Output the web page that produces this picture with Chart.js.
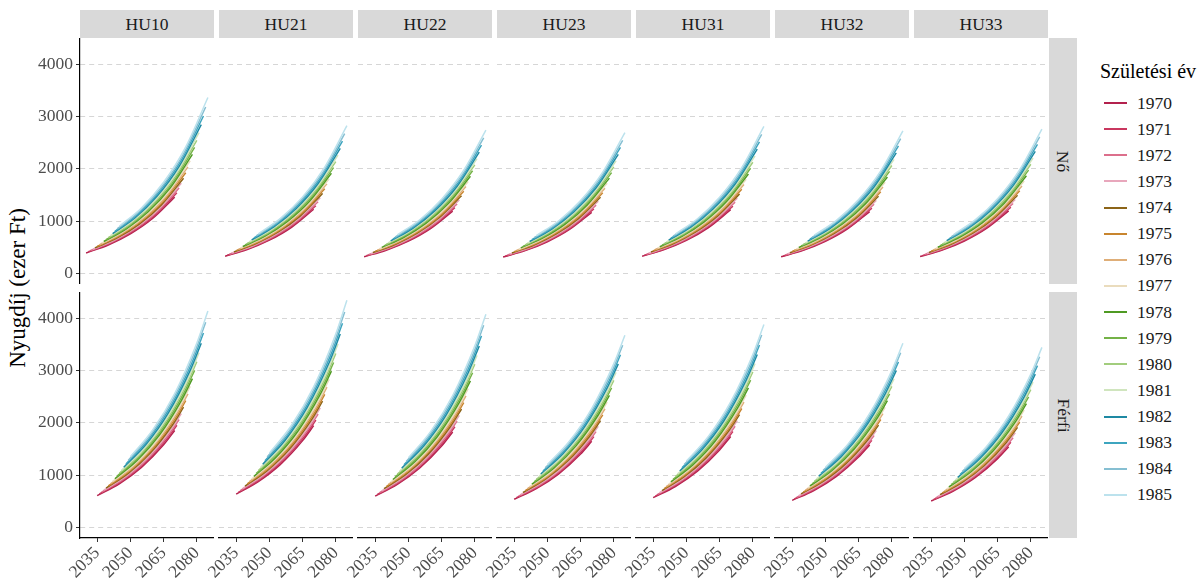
<!DOCTYPE html>
<html>
<head>
<meta charset="utf-8">
<title>Nyugdíj születési év szerint</title>
<script src="https://cdn.jsdelivr.net/npm/chart.js@4.4.1/dist/chart.umd.min.js"></script>
<style>
    body { margin: 0; width: 1203px; height: 581px; background: #fff; position: relative; overflow: hidden;
           font-family: 'Liberation Serif', 'Times New Roman', serif; }
    .panel { position: absolute; }
    .strip { position: absolute; background: #d9d9d9; color: #1a1a1a; font-size: 17.5px;
             display: flex; align-items: center; justify-content: center; }
    .strip.side span { transform: rotate(90deg); white-space: nowrap; }
    #ytitle { position: absolute; left: 18px; top: 288px; transform: translate(-50%, -50%) rotate(-90deg);
              font-size: 23px; color: #000; white-space: nowrap; }
    #legendTitle { position: absolute; left: 1100px; top: 60px; font-size: 20px; color: #000; white-space: nowrap; }
    .key { position: absolute; left: 1104px; height: 26px; display: flex; align-items: center; }
    .key i { display: block; width: 23px; height: 2px; margin-right: 10px; }
    .key span { font-size: 17.5px; color: #1a1a1a; font-family: 'Liberation Serif', 'Times New Roman', serif; }
</style>
</head>
<body>
<div id="ytitle">Nyugdíj (ezer Ft)</div>
<div id="legendTitle">Születési év</div>
<script>
// Data
const cohorts = [1970, 1971, 1972, 1973, 1974, 1975, 1976, 1977, 1978, 1979, 1980, 1981, 1982, 1983, 1984, 1985];
const regions = ['HU10', 'HU21', 'HU22', 'HU23', 'HU31', 'HU32', 'HU33'];
const sexes = ['Nő', 'Férfi'];
const agesNo = [60, 70, 80, 90, 100];
const agesFerfi = [65, 75, 85, 95, 100];
const xTicks = [2035, 2050, 2065, 2080];
const yTicks = [0, 1000, 2000, 3000, 4000];
const colors = ['#B3214D', '#C9375F', '#DC6F8C', '#E8A7BC',
                '#8C6418', '#C8852E', '#DFAE78', '#EADCBD',
                '#4F9A23', '#74B247', '#A2CD7D', '#D0E5BE',
                '#1E89A3', '#3DA5BF', '#86BFD2', '#BCE2ED'];

// Nő (ezer Ft), one row per cohort, values at agesNo
const noHU10 = [
    [390, 542, 755, 1049, 1459], [412, 573, 797, 1108, 1541], [436, 606, 844, 1173, 1631], [461, 641, 892, 1240, 1724],
    [487, 677, 942, 1310, 1821], [515, 716, 997, 1385, 1926], [545, 758, 1055, 1466, 2038], [576, 801, 1115, 1549, 2154],
    [609, 847, 1178, 1638, 2278], [644, 895, 1246, 1732, 2409], [681, 947, 1318, 1832, 2547], [720, 1001, 1393, 1937, 2693],
    [761, 1058, 1473, 2047, 2846], [805, 1119, 1558, 2165, 3011], [851, 1183, 1647, 2289, 3183], [900, 1251, 1742, 2421, 3366]];
const noHU21 = [
    [328, 455, 634, 881, 1226], [346, 481, 669, 931, 1294], [366, 509, 709, 985, 1370], [387, 538, 749, 1042, 1448],
    [409, 569, 791, 1100, 1530], [433, 601, 837, 1163, 1618], [458, 637, 886, 1231, 1712], [484, 673, 937, 1301, 1809],
    [512, 711, 990, 1376, 1914], [541, 752, 1047, 1455, 2024], [572, 795, 1107, 1539, 2139], [605, 841, 1170, 1627, 2262],
    [639, 889, 1237, 1719, 2391], [676, 940, 1309, 1819, 2529], [715, 994, 1383, 1923, 2674], [756, 1051, 1463, 2034, 2827]];
const noHU22 = [
    [318, 442, 615, 855, 1189], [336, 467, 650, 903, 1256], [355, 494, 688, 956, 1329], [376, 522, 727, 1011, 1405],
    [397, 552, 768, 1068, 1484], [420, 584, 813, 1129, 1570], [444, 618, 860, 1195, 1661], [469, 653, 909, 1262, 1756],
    [496, 690, 960, 1335, 1857], [525, 729, 1015, 1412, 1963], [555, 772, 1074, 1493, 2076], [587, 816, 1135, 1579, 2195],
    [620, 862, 1200, 1668, 2319], [656, 912, 1270, 1764, 2454], [694, 964, 1342, 1866, 2594], [734, 1020, 1420, 1973, 2743]];
const noHU23 = [
    [312, 434, 604, 839, 1167], [330, 458, 638, 886, 1233], [349, 485, 675, 938, 1305], [369, 513, 714, 992, 1379],
    [390, 542, 754, 1048, 1457], [412, 573, 798, 1108, 1541], [436, 606, 844, 1173, 1630], [461, 641, 892, 1239, 1723],
    [487, 678, 942, 1310, 1822], [515, 716, 997, 1386, 1927], [545, 758, 1054, 1466, 2038], [576, 801, 1114, 1550, 2154],
    [609, 846, 1178, 1638, 2277], [644, 895, 1246, 1732, 2409], [681, 946, 1318, 1831, 2546], [720, 1001, 1394, 1937, 2693]];
const noHU31 = [
    [326, 453, 630, 876, 1218], [344, 478, 665, 925, 1287], [364, 506, 705, 979, 1362], [385, 535, 745, 1035, 1440],
    [407, 565, 787, 1094, 1521], [430, 598, 832, 1156, 1608], [455, 633, 881, 1224, 1702], [481, 669, 931, 1293, 1799],
    [509, 707, 984, 1368, 1902], [538, 747, 1040, 1446, 2012], [569, 791, 1101, 1530, 2127], [601, 836, 1163, 1617, 2249],
    [635, 883, 1230, 1709, 2376], [672, 934, 1301, 1808, 2514], [711, 988, 1375, 1911, 2658], [752, 1045, 1455, 2022, 2811]];
const noHU32 = [
    [316, 439, 612, 850, 1182], [334, 464, 646, 897, 1248], [353, 491, 684, 950, 1321], [373, 519, 723, 1004, 1396],
    [394, 548, 763, 1061, 1475], [417, 580, 808, 1122, 1560], [441, 614, 855, 1187, 1651], [467, 649, 903, 1255, 1745],
    [493, 686, 954, 1327, 1845], [522, 725, 1009, 1403, 1951], [552, 767, 1068, 1484, 2063], [583, 811, 1128, 1569, 2181],
    [616, 857, 1193, 1658, 2305], [652, 906, 1262, 1754, 2439], [689, 958, 1334, 1854, 2578], [729, 1013, 1411, 1961, 2726]];
const noHU33 = [
    [320, 444, 619, 860, 1196], [338, 470, 654, 909, 1264], [358, 497, 692, 962, 1337], [378, 526, 731, 1017, 1414],
    [399, 555, 772, 1074, 1493], [422, 587, 818, 1136, 1579], [447, 622, 865, 1202, 1671], [472, 657, 914, 1270, 1766],
    [499, 695, 966, 1343, 1868], [528, 734, 1022, 1420, 1975], [558, 777, 1081, 1502, 2089], [590, 821, 1142, 1588, 2208],
    [624, 868, 1208, 1679, 2334], [660, 918, 1278, 1775, 2469], [698, 970, 1351, 1877, 2610], [738, 1026, 1428, 1985, 2760]];

// Férfi (ezer Ft), one row per cohort, values at agesFerfi
const ferfiHU10 = [
    [605, 833, 1147, 1580, 1854], [638, 879, 1210, 1666, 1955], [673, 927, 1276, 1758, 2063], [710, 978, 1346, 1855, 2176],
    [750, 1033, 1422, 1959, 2299], [791, 1089, 1500, 2066, 2424], [834, 1148, 1581, 2178, 2556], [880, 1212, 1668, 2299, 2697],
    [929, 1279, 1761, 2427, 2847], [980, 1349, 1858, 2560, 3004], [1034, 1424, 1960, 2701, 3169], [1090, 1501, 2067, 2847, 3341],
    [1150, 1584, 2180, 3004, 3525], [1214, 1672, 2302, 3171, 3721], [1281, 1764, 2429, 3346, 3926], [1351, 1860, 2561, 3529, 4141]];
const ferfiHU21 = [
    [635, 875, 1204, 1659, 1947], [670, 923, 1271, 1749, 2053], [707, 973, 1340, 1846, 2166], [746, 1027, 1413, 1948, 2285],
    [788, 1085, 1493, 2057, 2414], [831, 1143, 1575, 2169, 2545], [876, 1205, 1660, 2287, 2684], [924, 1273, 1751, 2414, 2832],
    [975, 1343, 1849, 2548, 2989], [1029, 1416, 1951, 2688, 3154], [1086, 1495, 2058, 2836, 3327], [1145, 1576, 2170, 2989, 3508],
    [1208, 1663, 2289, 3154, 3701], [1275, 1756, 2417, 3330, 3907], [1345, 1852, 2550, 3513, 4122], [1419, 1953, 2689, 3705, 4348]];
const ferfiHU22 = [
    [596, 821, 1130, 1556, 1826], [628, 866, 1192, 1641, 1926], [663, 913, 1257, 1732, 2032], [699, 963, 1326, 1827, 2143],
    [739, 1017, 1401, 1930, 2265], [779, 1073, 1478, 2035, 2388], [821, 1131, 1557, 2145, 2518], [867, 1194, 1643, 2265, 2657],
    [915, 1260, 1735, 2391, 2804], [965, 1329, 1830, 2522, 2959], [1018, 1403, 1931, 2660, 3121], [1074, 1479, 2036, 2804, 3291],
    [1133, 1560, 2147, 2959, 3472], [1196, 1647, 2267, 3123, 3665], [1262, 1738, 2393, 3296, 3867], [1331, 1832, 2523, 3476, 4079]];
const ferfiHU23 = [
    [537, 740, 1019, 1403, 1646], [567, 781, 1074, 1479, 1736], [598, 823, 1133, 1561, 1832], [630, 868, 1195, 1647, 1932],
    [666, 917, 1263, 1740, 2042], [702, 967, 1332, 1835, 2153], [741, 1019, 1404, 1934, 2270], [781, 1076, 1481, 2042, 2395],
    [825, 1136, 1564, 2155, 2528], [870, 1198, 1650, 2273, 2668], [918, 1265, 1740, 2398, 2814], [968, 1333, 1835, 2528, 2967],
    [1021, 1407, 1936, 2668, 3130], [1078, 1485, 2044, 2816, 3304], [1138, 1566, 2157, 2971, 3486], [1200, 1652, 2274, 3134, 3677]];
const ferfiHU31 = [
    [567, 781, 1076, 1482, 1739], [598, 825, 1135, 1563, 1834], [631, 870, 1197, 1649, 1935], [666, 917, 1263, 1740, 2041],
    [704, 969, 1334, 1838, 2156], [742, 1021, 1407, 1938, 2274], [782, 1077, 1483, 2043, 2398], [825, 1137, 1565, 2156, 2530],
    [871, 1200, 1652, 2277, 2670], [919, 1265, 1743, 2401, 2818], [970, 1336, 1838, 2534, 2973], [1022, 1408, 1939, 2670, 3134],
    [1079, 1486, 2045, 2818, 3307], [1139, 1568, 2159, 2974, 3490], [1202, 1655, 2278, 3139, 3683], [1267, 1745, 2402, 3310, 3884]];
const ferfiHU32 = [
    [515, 709, 976, 1345, 1578], [543, 748, 1030, 1418, 1664], [573, 789, 1086, 1496, 1756], [604, 832, 1145, 1579, 1852],
    [638, 879, 1210, 1667, 1956], [673, 927, 1277, 1758, 2063], [710, 977, 1345, 1853, 2175], [749, 1031, 1419, 1956, 2295],
    [791, 1088, 1499, 2065, 2423], [834, 1148, 1581, 2179, 2556], [880, 1212, 1668, 2299, 2697], [928, 1277, 1759, 2423, 2843],
    [979, 1348, 1855, 2556, 3000], [1033, 1423, 1959, 2699, 3167], [1090, 1501, 2067, 2847, 3341], [1150, 1583, 2179, 3003, 3524]];
const ferfiHU33 = [
    [503, 693, 954, 1315, 1543], [531, 731, 1007, 1386, 1627], [560, 771, 1062, 1463, 1716], [591, 814, 1120, 1543, 1810],
    [624, 859, 1183, 1630, 1913], [658, 906, 1248, 1719, 2017], [694, 955, 1315, 1812, 2127], [732, 1008, 1388, 1913, 2244],
    [773, 1064, 1465, 2019, 2369], [815, 1122, 1546, 2130, 2499], [860, 1185, 1631, 2247, 2637], [907, 1249, 1720, 2369, 2780],
    [957, 1318, 1814, 2499, 2933], [1010, 1391, 1915, 2638, 3096], [1066, 1468, 2021, 2784, 3266], [1124, 1548, 2131, 2936, 3445]];

const noRows = [noHU10, noHU21, noHU22, noHU23, noHU31, noHU32, noHU33];
const ferfiRows = [ferfiHU10, ferfiHU21, ferfiHU22, ferfiHU23, ferfiHU31, ferfiHU32, ferfiHU33];

// Layout
const colLeft = [80, 219, 358, 497, 636, 775, 914];
const rowTop = [38, 292];
const panelW = 134, panelH = 246;
const yAxisW = 80, xAxisH = 43, extraLeft = 22;
const tickFont = { family: "'Liberation Serif', 'Times New Roman', serif", size: 17.5 };

function zeroPad(sc) {
    sc.paddingLeft = 0; sc.paddingRight = 0; sc.paddingTop = 0; sc.paddingBottom = 0;
}

function addPanel(s, r) {
    const first = r === 0;
    const bottom = s === 1;
    const rows = s === 0 ? noRows[r] : ferfiRows[r];
    const ages = s === 0 ? agesNo : agesFerfi;
    const padLeft = first ? 0 : extraLeft;

    const box = document.createElement('div');
    box.className = 'panel';
    box.style.left = (first ? 0 : colLeft[r] - padLeft) + 'px';
    box.style.top = rowTop[s] + 'px';
    box.style.width = (first ? colLeft[0] + panelW : panelW + padLeft) + 'px';
    box.style.height = (panelH + (bottom ? xAxisH : 0)) + 'px';
    const canvas = document.createElement('canvas');
    box.appendChild(canvas);
    document.body.appendChild(box);

    const datasets = cohorts.map((c, k) => ({
        label: String(c),
        data: ages.map((a, j) => ({ x: c + a, y: rows[k][j] })),
        borderColor: colors[k],
        borderWidth: 1.5,
        pointRadius: 0,
        cubicInterpolationMode: 'monotone',
        order: cohorts.length - k,
    }));

    new Chart(canvas, {
        type: 'line',
        data: { datasets },
        options: {
            responsive: true,
            maintainAspectRatio: false,
            animation: false,
            events: [],
            layout: { padding: { left: padLeft, right: 0, top: 0, bottom: 0 } },
            plugins: { legend: { display: false }, tooltip: { enabled: false } },
            scales: {
                x: {
                    type: 'linear',
                    min: 2027.25,
                    max: 2087.75,
                    afterBuildTicks: (sc) => { sc.ticks = xTicks.map((v) => ({ value: v })); },
                    afterFit: (sc) => { sc.height = bottom ? xAxisH : 0; zeroPad(sc); },
                    grid: { display: bottom, drawOnChartArea: false, drawTicks: bottom, tickLength: 4,
                            tickColor: '#333333', tickWidth: 1 },
                    border: { display: bottom, color: '#000000', width: 1.2 },
                    ticks: { display: bottom, autoSkip: false, minRotation: 45, maxRotation: 45, padding: 1,
                             color: '#4d4d4d', font: tickFont, callback: (v) => String(v) },
                },
                y: {
                    type: 'linear',
                    min: -205,
                    max: 4505,
                    afterBuildTicks: (sc) => { sc.ticks = yTicks.map((v) => ({ value: v })); },
                    afterFit: (sc) => { sc.width = first ? yAxisW : 0; zeroPad(sc); },
                    grid: { color: '#d6d6d6', lineWidth: 1, drawTicks: first, tickLength: 4,
                            tickColor: '#333333', tickWidth: 1, tickBorderDash: [] },
                    border: { display: first, color: '#000000', width: 1.2, dash: [5, 4] },
                    ticks: { display: first, padding: 3, color: '#4d4d4d', font: tickFont,
                             callback: (v) => String(v) },
                },
            },
        },
    });
}

// Strips
regions.forEach((name, r) => {
    const d = document.createElement('div');
    d.className = 'strip';
    d.style.left = colLeft[r] + 'px';
    d.style.top = '10px';
    d.style.width = panelW + 'px';
    d.style.height = '28px';
    d.textContent = name;
    document.body.appendChild(d);
});
sexes.forEach((name, s) => {
    const d = document.createElement('div');
    d.className = 'strip side';
    d.style.left = '1049px';
    d.style.top = rowTop[s] + 'px';
    d.style.width = '28px';
    d.style.height = panelH + 'px';
    const t = document.createElement('span');
    t.textContent = name;
    d.appendChild(t);
    document.body.appendChild(d);
});

// Legend
cohorts.forEach((c, k) => {
    const d = document.createElement('div');
    d.className = 'key';
    d.style.top = (90 + k * 26.13) + 'px';
    const line = document.createElement('i');
    line.style.background = colors[k];
    const label = document.createElement('span');
    label.textContent = String(c);
    d.appendChild(line);
    d.appendChild(label);
    document.body.appendChild(d);
});

sexes.forEach((s, si) => regions.forEach((r, ri) => addPanel(si, ri)));
</script>
</body>
</html>
